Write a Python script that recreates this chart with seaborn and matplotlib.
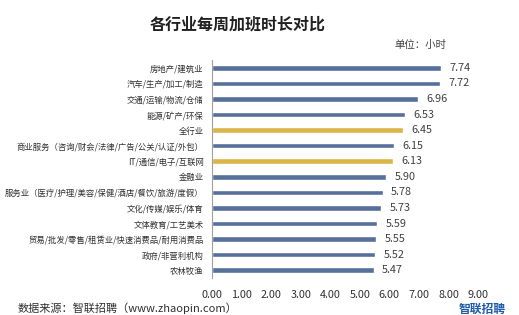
import matplotlib
matplotlib.use('Agg')
import matplotlib.pyplot as plt
import seaborn as sns
import pandas as pd

hangye = ['房地产/建筑业', '汽车/生产/加工/制造', '交通/运输/物流/仓储', '能源/矿产/环保', '全行业',
          '商业服务（咨询/财会/法律/广告/公关/认证/外包）', 'IT/通信/电子/互联网', '金融业',
          '服务业（医疗/护理/美容/保健/酒店/餐饮/旅游/度假）', '文化/传媒/娱乐/体育', '文体教育/工艺美术',
          '贸易/批发/零售/租赁业/快速消费品/耐用消费品', '政府/非营利机构', '农林牧渔']
horas = [7.74, 7.72, 6.96, 6.53, 6.45, 6.15, 6.13, 5.90, 5.78, 5.73, 5.59, 5.55, 5.52, 5.47]
destaque = ['全行业', 'IT/通信/电子/互联网']
ticks = [0, 1, 2, 3, 4, 5, 6, 7, 8, 9]

dados = pd.DataFrame({'hangye': hangye, 'horas': horas})
cores = ['#F2C12E' if h in destaque else '#4A6DA7' for h in hangye]

sns.set_style('white')
plt.rcParams['font.family'] = ['Noto Sans CJK SC', 'DejaVu Sans']

fig = plt.figure(figsize=(5.19, 3.15), dpi=100)
ax = fig.add_axes([212 / 519, 1 - 278 / 315, 266 / 519, 218 / 315])
sns.barplot(data=dados, x='horas', y='hangye', hue='hangye', palette=cores,
            legend=False, width=0.36, orient='h', ax=ax)

for i, v in enumerate(horas):
    ax.text(v + 0.28, i, f'{v:.2f}', va='center', ha='left', fontsize=7.8, color='#404040')

ax.set_xlim(0, 9)
ax.set_ylim(len(hangye) - 0.5, -0.5)
ax.set_xticks(ticks)
ax.set_xticklabels([f'{t:.2f}' for t in ticks], fontsize=7.8, color='#303030')
ax.tick_params(axis='y', labelsize=6.0, colors='#303030', length=0, pad=6)
ax.tick_params(axis='x', length=0, pad=9)
ax.set_xlabel('')
ax.set_ylabel('')
for s in ['top', 'right', 'bottom']:
    ax.spines[s].set_visible(False)
ax.spines['left'].set_color('#A0A0A0')
ax.spines['left'].set_linewidth(0.8)

fig.text(238 / 519, 1 - 24 / 315, '各行业每周加班时长对比', ha='center', va='center',
         fontsize=11.5, fontweight='bold', color='#202020')
fig.text(420 / 519, 1 - 45 / 315, '单位：小时', ha='center', va='center', fontsize=7.5, color='#404040')
fig.text(18 / 519, 1 - 308 / 315, '数据来源：智联招聘（www.zhaopin.com）', ha='left', va='center',
         fontsize=8, color='#303030')
fig.text(482 / 519, 1 - 309 / 315, '智联招聘', ha='center', va='center', fontsize=8.5,
         fontweight='bold', style='italic', color='#1F5BA8')

fig.savefig('out.png', dpi=100)
